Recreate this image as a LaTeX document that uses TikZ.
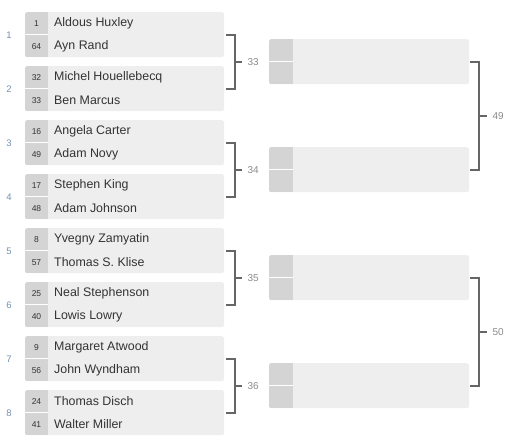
\documentclass[tikz,border=0pt]{standalone}
\usepackage{fontspec}
\setmainfont{Liberation Sans}
\usetikzlibrary{calc}
\definecolor{boxbg}{HTML}{EEEEEE}
\definecolor{seedbg}{HTML}{D4D4D4}
\definecolor{txt}{HTML}{333333}
\definecolor{brk}{HTML}{666666}
\definecolor{mlab}{HTML}{7590B0}
\definecolor{rlab}{HTML}{8A8A8A}
\tikzset{
  matchbox/.style={fill=boxbg, draw=none, rounded corners=2.5pt, minimum width=199pt, minimum height=45pt, inner sep=0pt, anchor=north west},
  seedcell/.style={fill=seedbg, draw=none, minimum width=23pt, minimum height=45pt, inner sep=0pt, anchor=north west},
  seedtxt/.style={text=txt, font=\fontsize{8.5}{10}\selectfont, inner sep=0pt, anchor=center},
  nametxt/.style={text=txt, font=\fontsize{12.4}{14}\selectfont, inner sep=0pt, anchor=west},
  matchlab/.style={text=mlab, font=\fontsize{9.5}{11}\selectfont, inner sep=0pt},
  roundlab/.style={text=rlab, font=\fontsize{10}{12}\selectfont, inner sep=0pt},
  bracket/.style={draw=brk, line width=2pt},
  divider/.style={draw=white, line width=0.8pt}
}
\begin{document}
\begin{tikzpicture}[x=1pt,y=-1pt]
\useasboundingbox (0,0) rectangle (507,441);
% round 1
\foreach \i/\sa/\na/\sb/\nb in {
 1/1/Aldous Huxley/64/Ayn Rand,
 2/32/Michel Houellebecq/33/Ben Marcus,
 3/16/Angela Carter/49/Adam Novy,
 4/17/Stephen King/48/Adam Johnson,
 5/8/Yvegny Zamyatin/57/Thomas S. Klise,
 6/25/Neal Stephenson/40/Lowis Lowry,
 7/9/Margaret Atwood/56/John Wyndham,
 8/24/Thomas Disch/41/Walter Miller}{
  \pgfmathsetmacro\t{12+54*(\i-1)}
  \node[matchbox] (m\i) at (25,\t) {};
  \begin{scope}
    \clip[rounded corners=2.5pt] (m\i.north west) rectangle (m\i.south east);
    \node[seedcell] (s\i) at (25,\t) {};
  \end{scope}
  \draw[divider] (s\i.west) -- (s\i.east);
  \node[seedtxt] (sa\i) at (36.5,\t+11.5) {\sa};
  \node[seedtxt] (sb\i) at (36.5,\t+34.5) {\sb};
  \node[nametxt] (na\i) at (54,\t+11.5) {\na};
  \node[nametxt] (nb\i) at (54,\t+34.2) {\nb};
  \node[matchlab] (ml\i) at (9,\t+22.8) {\i};
}
% round 2
\foreach \k in {1,2,3,4}{
  \pgfmathsetmacro\t{39+108*(\k-1)}
  \node[matchbox, minimum width=200pt] (r\k) at (269,\t) {};
  \begin{scope}
    \clip[rounded corners=2.5pt] (r\k.north west) rectangle (r\k.south east);
    \node[seedcell, minimum width=24pt] (rs\k) at (269,\t) {};
  \end{scope}
  \draw[divider] (rs\k.west) -- (rs\k.east);
}
% round 1 brackets
\foreach \k/\lab in {1/33,2/34,3/35,4/36}{
  \pgfmathtruncatemacro\a{2*\k-1}
  \pgfmathtruncatemacro\b{2*\k}
  \coordinate (bt\k) at ([xshift=2pt]m\a.east);
  \coordinate (bb\k) at ([xshift=2pt]m\b.east);
  \coordinate (bv\k) at ($(bt\k)!0.5!(bb\k)+(8.5,0)$);
  \draw[bracket] (bt\k) -| (bv\k |- bb\k) -- (bb\k);
  \draw[bracket] (bv\k) -- ++(7,0) coordinate (bm\k);
  \node[roundlab, anchor=west] (bl\k) at ([xshift=5.5pt]bm\k) {\lab};
}
% round 2 brackets
\foreach \k/\lab in {1/49,2/50}{
  \pgfmathtruncatemacro\a{2*\k-1}
  \pgfmathtruncatemacro\b{2*\k}
  \coordinate (ct\k) at ([xshift=1pt]r\a.east);
  \coordinate (cb\k) at ([xshift=1pt]r\b.east);
  \coordinate (cv\k) at ($(ct\k)!0.5!(cb\k)+(9,0)$);
  \draw[bracket] (ct\k) -| (cv\k |- cb\k) -- (cb\k);
  \draw[bracket] (cv\k) -- ++(8,0) coordinate (cm\k);
  \node[roundlab, anchor=west] (cl\k) at ([xshift=5pt]cm\k) {\lab};
}
\end{tikzpicture}
\end{document}
